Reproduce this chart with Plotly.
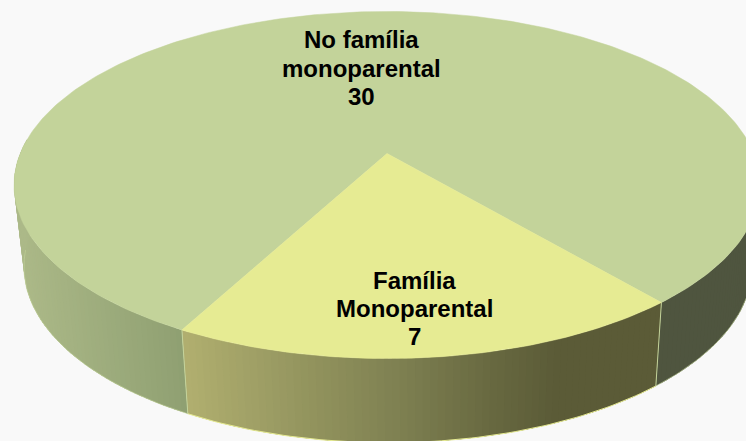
import math
import plotly.graph_objects as go

# Data
categories = ["No família\nmonoparental", "Família\nMonoparental"]
values = [30, 7]

# Look
TOP_COLORS = ["#c3d39a", "#e6eb93"]
BACKGROUND = "#f9f9f9"
WALL_STOPS = [
    # (x pixel, colour) for the wall of each slice
    [(20, (172, 185, 136)), (185, (142, 159, 113)), (653, (142, 159, 113)), (654, (79, 85, 63)), (760, (79, 85, 63))],
    [(185, (178, 176, 112)), (300, (150, 151, 96)), (400, (127, 129, 82)), (500, (103, 104, 64)), (560, (91, 91, 55)), (655, (91, 91, 55))],
]
W, H = 746, 441
K = 0.1816  # perspective strength
TOP = dict(cx=387.0, cy=153.5, a=366.8, b=167.8)
BOTTOM = dict(cx=388.0, cy=235.0, a=358.0, b=170.0)
SMALL_SLICE_LEFT_DEG = 28.0  # left edge of the small slice, measured from the front of the disc
LABEL_POS = [(361, [39.5, 68, 96]), (414.5, [280, 308, 336.5])]
WALL_LIMIT = 95.0
RIM_LIMIT = 85.0


def project(plane, deg):
    """deg measured from the front of the disc: negative to the left, positive to the right."""
    t = math.radians(deg)
    u, v = math.sin(t), math.cos(t)
    w = 1 - K * v
    return plane["cx"] + plane["a"] * u / w, plane["cy"] + plane["b"] * v / w


def arc(plane, a0, a1, step=1.0):
    n = max(2, int(abs(a1 - a0) / step) + 1)
    return [project(plane, a0 + (a1 - a0) * i / (n - 1)) for i in range(n)]


def wall_colour(stops, x):
    if x <= stops[0][0]:
        c = stops[0][1]
    elif x >= stops[-1][0]:
        c = stops[-1][1]
    else:
        for (x0, c0), (x1, c1) in zip(stops, stops[1:]):
            if x0 <= x <= x1:
                f = (x - x0) / (x1 - x0)
                c = tuple(c0[i] + (c1[i] - c0[i]) * f for i in range(3))
                break
    return "rgb(%d,%d,%d)" % tuple(round(q) for q in c)


def poly(points, fill, line=None, width=1.0, closed=True):
    pts = list(points) + ([points[0]] if closed else [])
    return go.Scatter(
        x=[p[0] for p in pts], y=[p[1] for p in pts],
        mode="lines", fill="toself" if closed else None,
        fillcolor=fill if closed else None,
        line=dict(color=line or fill, width=width),
        hoverinfo="skip", showlegend=False,
    )


# slice angles from the values
total = sum(values)
small_span = 360.0 * values[1] / total
small_start = -SMALL_SLICE_LEFT_DEG
small_end = small_start + small_span
big_start = small_end
big_end = small_start + 360.0

fig = go.Figure()

STEP = 1.0
def wall(a0, a1, stops):
    """Narrow strips, each overlapping the next so no seams show through."""
    n = int(abs(a1 - a0) / STEP) + 1
    for i in range(n):
        d0 = a0 + (a1 - a0) * i / n
        d1 = a0 + (a1 - a0) * min(i + 2.5, n) / n
        q = [project(TOP, d0), project(TOP, d1), project(BOTTOM, d1), project(BOTTOM, d0)]
        x_mid = sum(p[0] for p in q) / 4
        fig.add_trace(poly(q, wall_colour(stops, x_mid), width=0))

wall(big_start, WALL_LIMIT, WALL_STOPS[0])
wall(big_end, 360 - WALL_LIMIT, WALL_STOPS[0])
wall(small_start, small_end, WALL_STOPS[1])

# thin light rims along the lower edge and at the slice seams
fig.add_trace(poly(arc(BOTTOM, small_start, small_end), None, TOP_COLORS[1], 1.0, closed=False))
fig.add_trace(poly(arc(BOTTOM, big_start, RIM_LIMIT), None, TOP_COLORS[0], 0.6, closed=False))
fig.add_trace(poly(arc(BOTTOM, big_end, 360 - RIM_LIMIT), None, TOP_COLORS[0], 0.6, closed=False))
for d in (small_start, small_end):
    fig.add_trace(poly([project(TOP, d), project(BOTTOM, d)], None, TOP_COLORS[0], 1.0, closed=False))

# top faces
apex = (TOP["cx"], TOP["cy"])
fig.add_trace(poly([apex] + arc(TOP, big_start, big_end), TOP_COLORS[0], width=0.5))
fig.add_trace(poly([apex] + arc(TOP, small_start, small_end), TOP_COLORS[1], width=0.5))

# labels, one annotation per line for the tight leading
for cat, val, (lx, lys) in zip(categories, values, LABEL_POS):
    lines = cat.split("\n") + [str(val)]
    for txt, ly in zip(lines, lys):
        fig.add_annotation(
            x=lx, y=ly, text="<b>" + txt + "</b>", showarrow=False,
            xanchor="center", yanchor="middle",
            font=dict(family="Liberation Sans", size=24, color="black"),
        )

fig.update_layout(
    width=W, height=H,
    margin=dict(l=0, r=0, t=0, b=0),
    paper_bgcolor=BACKGROUND, plot_bgcolor=BACKGROUND,
    xaxis=dict(visible=False, range=[0, W], fixedrange=True),
    yaxis=dict(visible=False, range=[H, 0], fixedrange=True),
    showlegend=False,
)
fig.write_html(
    "out.html",
    config=dict(displayModeBar=False),
    post_script=(
        "document.body.style.margin='0';"
        "document.body.style.overflow='hidden';"
        f"document.body.style.background='{BACKGROUND}';"
    ),
)
